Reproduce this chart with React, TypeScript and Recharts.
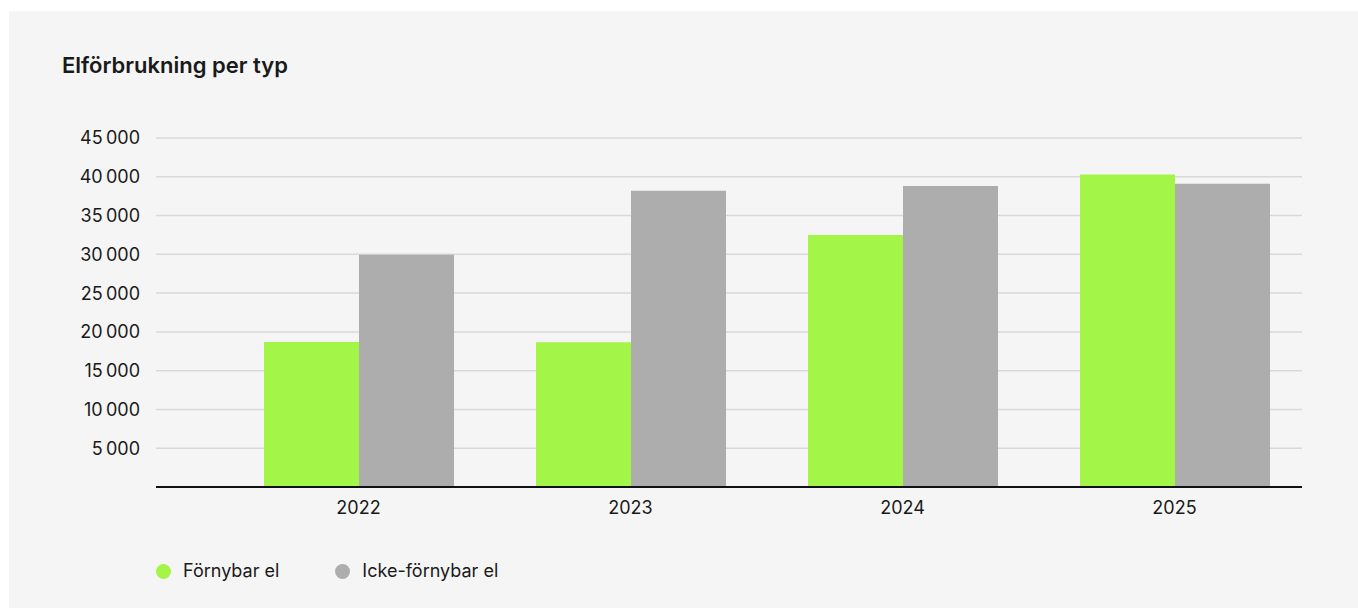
import React from 'react';
import { BarChart, Bar, XAxis, YAxis, CartesianGrid } from 'recharts';

const years = ['2022', '2023', '2024', '2025'];
const fornybar = [18700, 18650, 32500, 40300];
const ickeFornybar = [29950, 38200, 38800, 39100];
const yTicks = [0, 5000, 10000, 15000, 20000, 25000, 30000, 35000, 40000, 45000];
const seriesNames = ['Förnybar el', 'Icke-förnybar el'];
const seriesColors = ['#a3f547', '#adadad'];
const title = 'Elförbrukning per typ';

const data = years.map((y, i) => ({ year: y, fornybar: fornybar[i], icke: ickeFornybar[i] }));

const FONT = 'Inter, "Noto Sans", sans-serif';
const TEXT = '#1a1a1a';

const fmt = (v: number) => {
  if (v === 0) return '';
  const s = String(v);
  return s.slice(0, s.length - 3) + '\u2009' + s.slice(-3);
};

export default function App() {
  return (
    <div
      style={{
        position: 'fixed',
        left: 9,
        top: 11,
        right: -40,
        bottom: -40,
        background: '#f5f5f5',
        fontFamily: FONT,
        color: TEXT,
        overflow: 'hidden',
      }}
    >
      <div
        style={{
          position: 'absolute',
          left: 53,
          top: 41,
          fontSize: 22,
          lineHeight: '26px',
          fontWeight: 600,
        }}
      >
        {title}
      </div>
      <div style={{ position: 'absolute', left: 0, top: 0 }}>
        <BarChart
          width={1349}
          height={597}
          data={data}
          margin={{ top: 127, right: 56, bottom: 91, left: 67 }}
          barGap={0}
          barCategoryGap={41.5}
        >
          <CartesianGrid vertical={false} stroke="#d9d9d9" strokeWidth={1.5} />
          <XAxis
            dataKey="year"
            height={30}
            padding={{ left: 66.5, right: -8.5 }}
            axisLine={{ stroke: '#111111', strokeWidth: 2 }}
            tickLine={false}
            tickMargin={8}
            tick={{ fill: TEXT, fontSize: 18, fontFamily: FONT }}
          />
          <YAxis
            width={80}
            domain={[0, 45000]}
            ticks={yTicks}
            interval={0}
            axisLine={false}
            tickLine={false}
            tickMargin={10}
            tickFormatter={fmt}
            tick={{ fill: TEXT, fontSize: 18, fontFamily: FONT }}
          />
          <Bar dataKey="fornybar" name={seriesNames[0]} fill={seriesColors[0]} isAnimationActive={false} />
          <Bar dataKey="icke" name={seriesNames[1]} fill={seriesColors[1]} isAnimationActive={false} />
        </BarChart>
      </div>
      <div
        style={{
          position: 'absolute',
          left: 147,
          top: 547,
          display: 'flex',
          alignItems: 'center',
          fontSize: 18,
          lineHeight: '26px',
        }}
      >
        {seriesNames.map((n, i) => (
          <div key={n} style={{ display: 'flex', alignItems: 'center', marginRight: 56 }}>
            <span
              style={{
                display: 'inline-block',
                width: 15,
                height: 15,
                borderRadius: '50%',
                background: seriesColors[i],
                marginRight: 12,
              }}
            />
            <span>{n}</span>
          </div>
        ))}
      </div>
    </div>
  );
}
